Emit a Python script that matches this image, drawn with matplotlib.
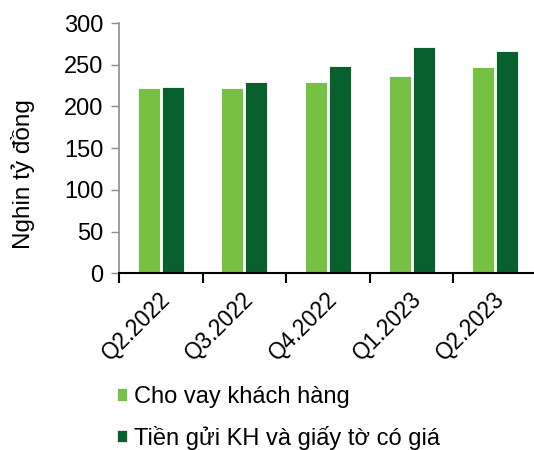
import matplotlib
matplotlib.use("Agg")
import matplotlib.pyplot as plt
import numpy as np
from matplotlib.patches import Patch

categories = ["Q2.2022", "Q3.2022", "Q4.2022", "Q1.2023", "Q2.2023"]
loans = [222, 222, 229, 237, 247]
deposits = [223, 229, 249, 271, 266]
series_names = ["Cho vay khách hàng", "Tiền gửi KH và giấy tờ có giá"]
yticks = [0, 50, 100, 150, 200, 250, 300]

light = "#76C143"
dark = "#08602F"

FS = 17
plt.rcParams['font.family'] = ['Liberation Sans', 'DejaVu Sans']
plt.rcParams['font.size'] = FS

fig = plt.figure(figsize=(5.34, 4.5), dpi=100)
ax = fig.add_axes([119/534, 1-273.3/450, 418/534, (273.3-23)/450])

x = np.arange(len(categories))
w = 0.265
off = 0.1435
ax.bar(x - off, loans, w, color=light, edgecolor="white", linewidth=0.6)
ax.bar(x + off, deposits, w, color=dark, edgecolor="white", linewidth=0.6)

ax.set_xlim(-0.5, len(categories) - 0.5)
ax.set_ylim(0, 300)
ax.set_yticks(yticks)
ax.tick_params(axis='y', direction='out', length=6, width=1, color='#8c8c8c', labelsize=FS, pad=5)

ax.set_xticks(np.arange(-0.5, len(categories), 1.0))
ax.set_xticklabels([])
ax.set_xticks(x, minor=True)
ax.set_xticklabels(categories, minor=True, rotation=45, ha='right', va='center', rotation_mode='anchor')
ax.tick_params(axis='x', which='minor', length=0, pad=16, labelsize=16.3)
ax.tick_params(axis='x', which='major', direction='out', length=7, width=1.5, color='black')
import matplotlib.transforms as mtrans
shift = mtrans.ScaledTranslation(6/100, 0, fig.dpi_scale_trans)
for lab in ax.get_xticklabels(minor=True):
    lab.set_transform(lab.get_transform() + shift)

for s in ['top', 'right']:
    ax.spines[s].set_visible(False)
ax.spines['left'].set_color('#8c8c8c')
ax.spines['left'].set_linewidth(1.2)
ax.spines['bottom'].set_color('black')
ax.spines['bottom'].set_linewidth(1.5)

fig.text(23/534, 1-174/450, "Nghin tỷ đồng", rotation=90, ha='center', va='center', fontsize=17.5)

handles = [Patch(facecolor=light, edgecolor='white', linewidth=0.5), Patch(facecolor=dark, edgecolor='white', linewidth=0.5)]
fig.legend(handles, series_names, loc='upper left', bbox_to_anchor=(117/534, 1-386/450),
           frameon=False, handlelength=0.42, handleheight=0.42, handletextpad=0.3,
           labelspacing=0.75, fontsize=FS, borderpad=0, borderaxespad=0)

fig.savefig("out.png", dpi=100)
